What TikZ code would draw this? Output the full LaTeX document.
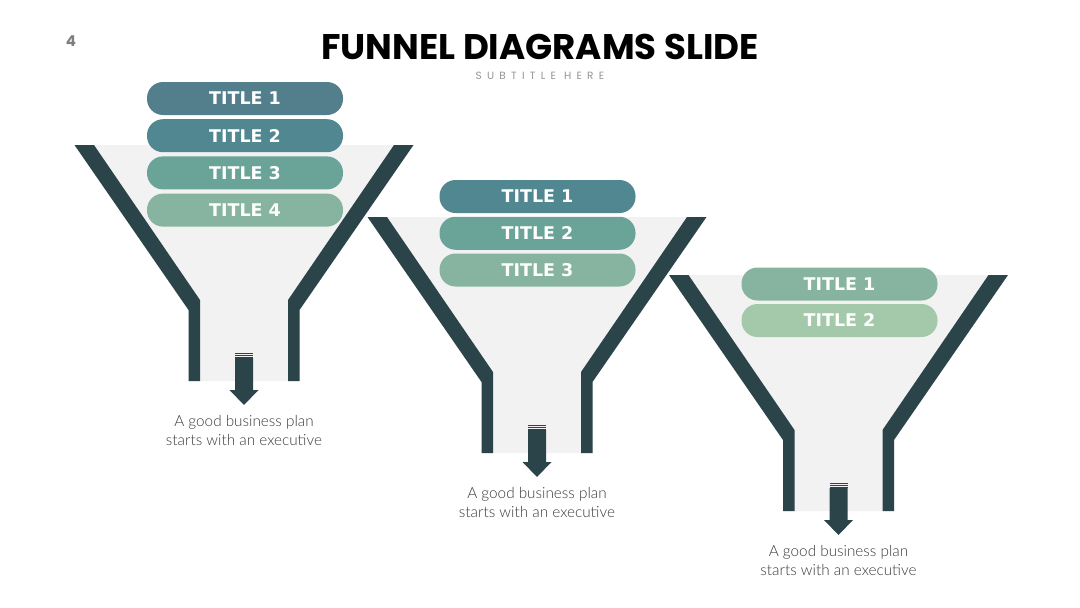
\documentclass[tikz,border=0pt]{standalone}
\usepackage{fontspec}
\setmainfont{Lato}
\newfontfamily\headfont{Poppins}
\newfontfamily\pillfont{DejaVu Sans}
\newfontfamily\capfont{Lato Light}
\usetikzlibrary{positioning}
\definecolor{funneldark}{HTML}{2B444A}
\definecolor{funnelgray}{HTML}{F2F2F2}
\definecolor{tealA}{HTML}{537F8C}
\definecolor{tealB}{HTML}{518790}
\definecolor{tealC}{HTML}{6AA398}
\definecolor{tealD}{HTML}{87B4A0}
\definecolor{tealE}{HTML}{A3C8AA}
\definecolor{subgray}{HTML}{949494}
\definecolor{capgray}{HTML}{3A3A3A}
\tikzset{
  pill/.style={rounded corners=16pt, minimum width=196pt, minimum height=33pt, inner sep=0pt,
    text=white, font=\pillfont\bfseries\fontsize{17.5}{17.5}\selectfont},
  caption/.style={align=center, text=capgray, font=\capfont\fontsize{15.3}{19.5}\selectfont}
}

\begin{document}
\begin{tikzpicture}[x=1pt,y=-1pt]
  % Define funnel dimensions (px, relative to top centre)
  \def\topout{169.5}
  \def\topin{150}
  \def\stemout{55.5}
  \def\stemin{44}
  \def\kinkin{155}
  \def\kinkout{165}
  \def\stemend{236}
  \useasboundingbox (0,0) rectangle (1080,608);
  \fill[white] (0,0) rectangle (1080,608);

  % Heading
  \node[text=subgray!85!black, font=\headfont\bfseries\fontsize{15}{15}\selectfont] (pagenum) at (71,41) {4};
  \node[font=\headfont\bfseries\fontsize{35.6}{35.6}\selectfont] (title) at (540,47) {FUNNEL DIAGRAMS SLIDE};
  \node[text=subgray, font=\headfont\fontsize{10.5}{11}\selectfont\addfontfeature{LetterSpace=50}] (subtitle) at (540,76) {SUBTITLE HERE};

  % Draw 3 funnels, each with arrow and caption
  \foreach \n/\cx/\ty in {1/244/145, 2/537/217, 3/838.5/275} {
    \fill[funnelgray] (\cx-\topout,\ty) -- (\cx+\topout,\ty) -- (\cx+\stemout,\ty+\kinkout) -- (\cx+\stemout,\ty+\stemend)
      -- (\cx-\stemout,\ty+\stemend) -- (\cx-\stemout,\ty+\kinkout) -- cycle;
    \fill[funneldark] (\cx-\topout,\ty) -- (\cx-\topin,\ty) -- (\cx-\stemin,\ty+\kinkin) -- (\cx-\stemin,\ty+\stemend)
      -- (\cx-\stemout,\ty+\stemend) -- (\cx-\stemout,\ty+\kinkout) -- cycle;
    \fill[funneldark] (\cx+\topout,\ty) -- (\cx+\topin,\ty) -- (\cx+\stemin,\ty+\kinkin) -- (\cx+\stemin,\ty+\stemend)
      -- (\cx+\stemout,\ty+\stemend) -- (\cx+\stemout,\ty+\kinkout) -- cycle;
    % striped arrow out of the stem
    \foreach \s in {207.5,209.5,211.5} {
      \fill[funneldark] (\cx-9,\ty+\s) rectangle (\cx+9,\ty+\s+1);
    }
    \fill[funneldark] (\cx-9,\ty+213) -- (\cx+9,\ty+213) -- (\cx+9,\ty+245) -- (\cx+14.5,\ty+245)
      -- (\cx,\ty+260) -- (\cx-14.5,\ty+245) -- (\cx-9,\ty+245) -- cycle;
    \node[caption] (cap\n) at (\cx,\ty+285.5) {A good business plan\\starts with an executive};
  }

  % Funnel 1: 4 titles
  \foreach \i/\col in {1/tealA,2/tealB,3/tealC,4/tealD} {
    \node[pill, fill=\col] (fa\i) at (245,61.3+\i*37.2) {TITLE \i};
  }
  % Funnel 2: 3 titles
  \foreach \i/\col in {1/tealB,2/tealC,3/tealD} {
    \node[pill, fill=\col] (fb\i) at (537.5,159.75+\i*36.75) {TITLE \i};
  }
  % Funnel 3: 2 titles
  \foreach \i/\col in {1/tealD,2/tealE} {
    \node[pill, fill=\col] (fc\i) at (839.5,247.5+\i*36.5) {TITLE \i};
  }
\end{tikzpicture}
\end{document}
